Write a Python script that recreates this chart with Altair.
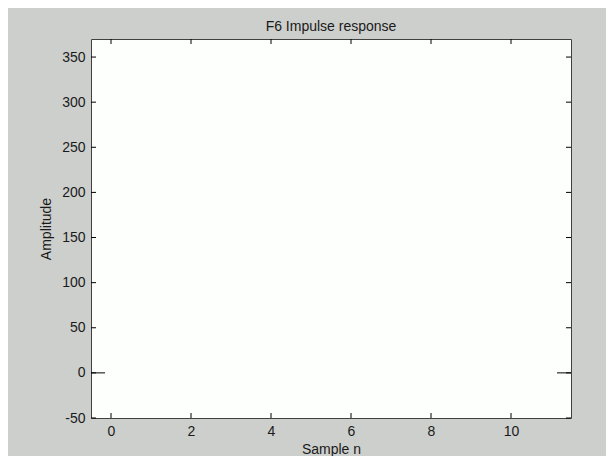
import altair as alt
import pandas as pd

# ---- data ----
x_ticks = [0, 2, 4, 6, 8, 10]
y_ticks = [-50, 0, 50, 100, 150, 200, 250, 300, 350]
x_domain = [-0.5, 11.5]
y_domain = [-50, 370]
# short baseline pieces visible at amplitude 0 near both edges
base_start = [-0.5, 11.15]
base_end = [-0.15, 11.5]
base_level = [0, 0]

W, H = 480, 379
FONT = "Liberation Sans"
TXT = "#1a1a1a"

xs = alt.Scale(domain=x_domain, nice=False, zero=False)
ys = alt.Scale(domain=y_domain, nice=False, zero=False)

base_df = pd.DataFrame({"x": base_start, "x2": base_end, "y": base_level})
xt_df = pd.DataFrame({"t": x_ticks})
yt_df = pd.DataFrame({"t": y_ticks})

x_axis = alt.Axis(
    values=x_ticks, ticks=False, tickSize=0, domain=False, grid=False,
    labelPadding=6, labelFontSize=14, labelFont=FONT, labelColor=TXT,
    labelBaseline="top", labelExpr="toString(datum.value)",
    title="Sample n", titleFont=FONT, titleFontSize=14, titleFontWeight="normal",
    titleColor=TXT, titleX=W / 2, titleY=35, titleBaseline="alphabetic",
    titleAlign="center")
y_axis = alt.Axis(
    values=y_ticks, ticks=False, tickSize=0, domain=False, grid=False,
    labelPadding=6, labelFontSize=14, labelFont=FONT, labelColor=TXT,
    labelBaseline="middle", labelExpr="toString(datum.value)",
    title="Amplitude", titleFont=FONT, titleFontSize=14, titleFontWeight="normal",
    titleColor=TXT, titleX=-45, titleY=H / 2, titleAngle=270,
    titleBaseline="middle", titleAlign="center")

base = alt.Chart(base_df).mark_rule(color="#000000", strokeWidth=1).encode(
    x=alt.X("x:Q", scale=xs, axis=x_axis),
    x2="x2:Q",
    y=alt.Y("y:Q", scale=ys, axis=y_axis),
)

tick_len = 5
y_left = alt.Chart(yt_df).mark_rule(color="#000000").encode(
    y=alt.Y("t:Q", scale=ys, axis=y_axis), x=alt.value(0), x2=alt.value(tick_len))
y_right = alt.Chart(yt_df).mark_rule(color="#000000").encode(
    y=alt.Y("t:Q", scale=ys, axis=y_axis), x=alt.value(W - tick_len), x2=alt.value(W))
x_bottom = alt.Chart(xt_df).mark_rule(color="#000000").encode(
    x=alt.X("t:Q", scale=xs, axis=x_axis), y=alt.value(H - tick_len), y2=alt.value(H))
x_top = alt.Chart(xt_df).mark_rule(color="#000000").encode(
    x=alt.X("t:Q", scale=xs, axis=x_axis), y=alt.value(0), y2=alt.value(tick_len))

chart = alt.layer(base, y_left, y_right, x_bottom, x_top).properties(
    width=W, height=H,
    title=alt.TitleParams("F6 Impulse response", font=FONT, fontSize=14,
                          fontWeight="normal", color=TXT, anchor="middle",
                          baseline="alphabetic", offset=-6),
    autosize=alt.AutoSizeParams(type="none"),
    padding={"left": 83, "top": 31, "right": 35, "bottom": 38},
    background="#cdcfcc",
).configure_view(
    stroke="#404040", strokeWidth=1, fill="#fdfffd"
)

chart.save("out.html", embed_options={"renderer": "svg", "actions": False})
